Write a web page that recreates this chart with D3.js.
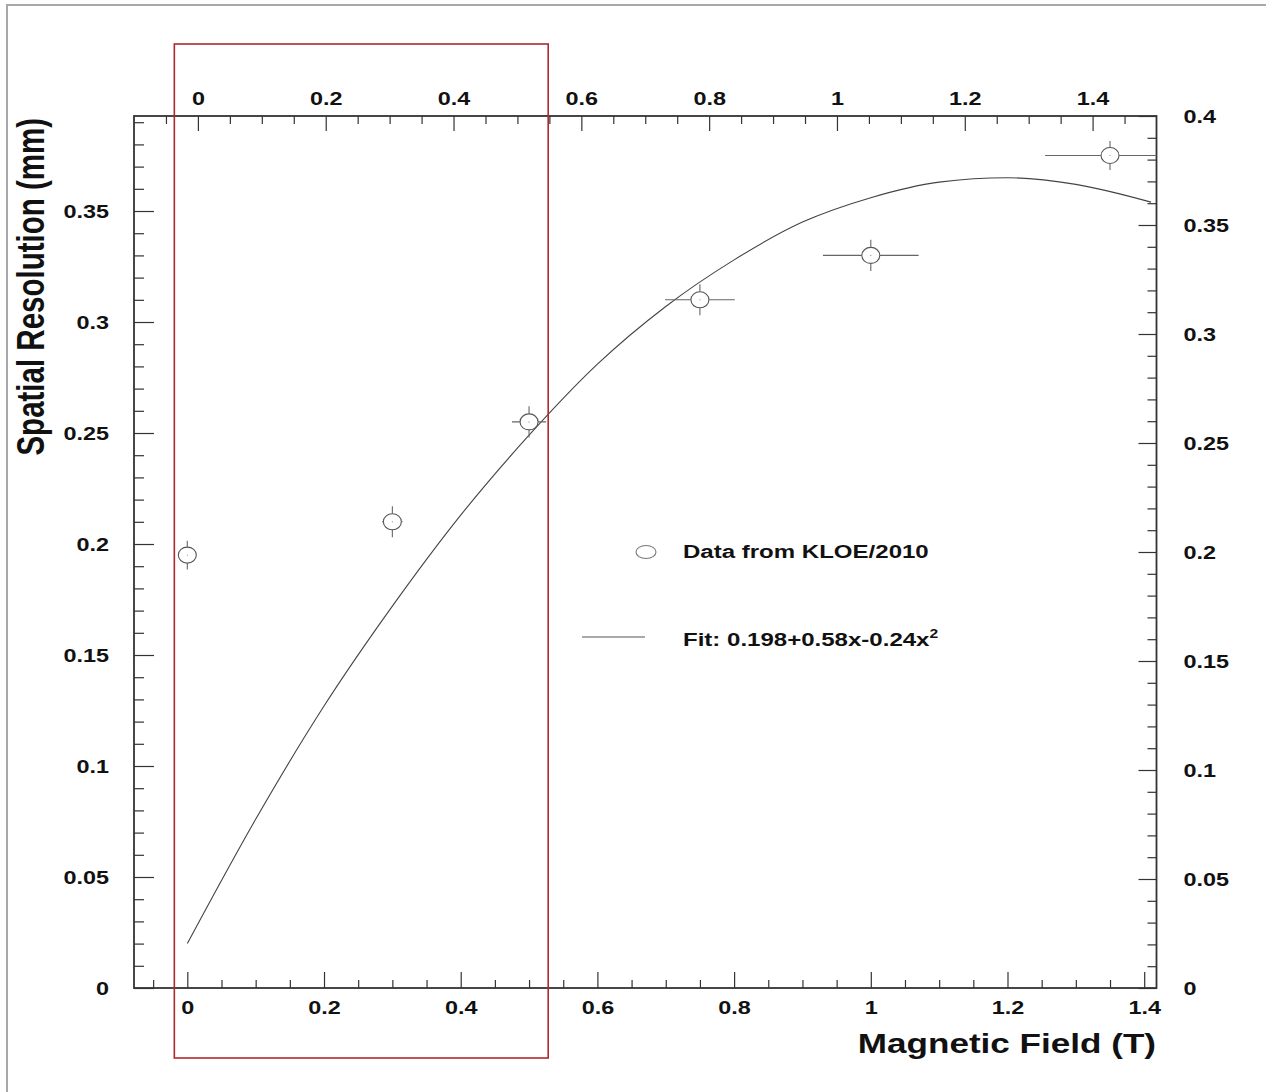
<!DOCTYPE html>
<html>
<head>
<meta charset="utf-8">
<script src="https://cdn.jsdelivr.net/npm/d3@7"></script>
<style>
  body { margin: 0; background: #fff; }
  svg text { font-family: "Liberation Sans", Arial, sans-serif; font-weight: bold; fill: #111; }
</style>
</head>
<body>
<div class="vis"></div>
<script>
// data
const fieldT = [0, 0.3, 0.5, 0.75, 1.0, 1.35];
const resolutionMm = [0.195, 0.21, 0.255, 0.31, 0.33, 0.375];
const fieldErr = [0, 0.015, 0.025, 0.051, 0.07, 0.095];
const resolutionErr = [0.0065, 0.007, 0.007, 0.007, 0.007, 0.0065];

// fit curve as drawn (sampled from the figure)
const fitX = [0, 0.1, 0.2, 0.3, 0.4, 0.5, 0.6, 0.7, 0.8, 0.9, 1.0, 1.1, 1.2, 1.3, 1.41];
const fitY = [0.020, 0.076, 0.127, 0.172, 0.213, 0.249, 0.281, 0.307, 0.328, 0.345, 0.356, 0.363, 0.365, 0.362, 0.354];

const bottomTicks = [0, 0.2, 0.4, 0.6, 0.8, 1, 1.2, 1.4];
const bottomLabels = ["0", "0.2", "0.4", "0.6", "0.8", "1", "1.2", "1.4"];
const topTicks = [0, 0.2, 0.4, 0.6, 0.8, 1, 1.2, 1.4];
const topLabels = ["0", "0.2", "0.4", "0.6", "0.8", "1", "1.2", "1.4"];
const leftTicks = [0, 0.05, 0.1, 0.15, 0.2, 0.25, 0.3, 0.35];
const leftLabels = ["0", "0.05", "0.1", "0.15", "0.2", "0.25", "0.3", "0.35"];
const rightTicks = [0, 0.05, 0.1, 0.15, 0.2, 0.25, 0.3, 0.35, 0.4];
const rightLabels = ["0", "0.05", "0.1", "0.15", "0.2", "0.25", "0.3", "0.35", "0.4"];

const legendLabels = ["Data from KLOE/2010", "Fit: 0.198+0.58x-0.24x"];
const highlightRange = [-0.019, 0.528];

const W = 1266, H = 1092;
const frame = {left: 134, right: 1156.5, top: 116, bottom: 988};
const sx = 1.3; // the picture's text is stretched sideways

const svg = d3.select('.vis').append('svg')
    .attr('width', W)
    .attr('height', H);

// outer grey border of the screenshot
svg.append('path')
    .attr('d', `M7,${H} V5 H${W}`)
    .attr('fill', 'none')
    .attr('stroke', '#a8a8a8')
    .attr('stroke-width', 2);

const x = d3.scaleLinear().domain([-0.078, 1.418]).range([frame.left, frame.right]);
const xTop = d3.scaleLinear().domain([-0.1, 1.5]).range([frame.left, frame.right]);
const y = d3.scaleLinear().domain([0, 0.3928]).range([frame.bottom, frame.top]);
const yRight = d3.scaleLinear().domain([0, 0.4]).range([frame.bottom, frame.top]);

const axisColor = '#333';

function styleAxis(g) {
    g.select('.domain').remove();
    g.selectAll('line').attr('stroke', axisColor).attr('stroke-width', 1.2);
}

// bottom axis
svg.append('g')
    .attr('transform', `translate(0,${frame.bottom})`)
    .call(d3.axisBottom(x).tickValues(d3.range(-0.05, 1.42, 0.05).filter(v => Math.abs(v * 5 - Math.round(v * 5)) > 1e-6)).tickSize(-8).tickFormat(''))
    .call(styleAxis);
const bAx = svg.append('g')
    .attr('transform', `translate(0,${frame.bottom})`)
    .call(d3.axisBottom(x).tickValues(bottomTicks).tickSize(-16).tickFormat((d, i) => bottomLabels[i]))
    .call(styleAxis);
bAx.selectAll('text')
    .attr('y', 26).attr('dy', 0)
    .attr('transform', `scale(${sx},1)`)
    .attr('font-size', 18).attr('fill', '#111');

// top axis
svg.append('g')
    .attr('transform', `translate(0,${frame.top})`)
    .call(d3.axisTop(xTop).tickValues(d3.range(-0.05, 1.5, 0.05).filter(v => Math.abs(v * 5 - Math.round(v * 5)) > 1e-6)).tickSize(-8).tickFormat(''))
    .call(styleAxis);
const tAx = svg.append('g')
    .attr('transform', `translate(0,${frame.top})`)
    .call(d3.axisTop(xTop).tickValues(topTicks).tickSize(-15).tickFormat((d, i) => topLabels[i]))
    .call(styleAxis);
tAx.selectAll('text')
    .attr('y', -11).attr('dy', 0)
    .attr('transform', `scale(${sx},1)`)
    .attr('font-size', 18).attr('fill', '#111');

// left axis
svg.append('g')
    .attr('transform', `translate(${frame.left},0)`)
    .call(d3.axisLeft(y).tickValues(d3.range(0.01, 0.391, 0.01).filter(v => Math.abs(v * 20 - Math.round(v * 20)) > 1e-6)).tickSize(-10).tickFormat(''))
    .call(styleAxis);
const lAx = svg.append('g')
    .attr('transform', `translate(${frame.left},0)`)
    .call(d3.axisLeft(y).tickValues(leftTicks).tickSize(-20).tickFormat((d, i) => leftLabels[i]))
    .call(styleAxis);
lAx.selectAll('text')
    .attr('x', -25 / sx).attr('dy', '0.36em')
    .attr('transform', `scale(${sx},1)`)
    .attr('font-size', 18).attr('fill', '#111');

// right axis
svg.append('g')
    .attr('transform', `translate(${frame.right},0)`)
    .call(d3.axisRight(yRight).tickValues(d3.range(0.01, 0.4, 0.01).filter(v => Math.abs(v * 20 - Math.round(v * 20)) > 1e-6)).tickSize(-9).tickFormat(''))
    .call(styleAxis);
const rAx = svg.append('g')
    .attr('transform', `translate(${frame.right},0)`)
    .call(d3.axisRight(yRight).tickValues(rightTicks).tickSize(-18).tickFormat((d, i) => rightLabels[i]))
    .call(styleAxis);
rAx.selectAll('text')
    .attr('x', 27 / sx).attr('dy', '0.36em')
    .attr('transform', `scale(${sx},1)`)
    .attr('font-size', 18).attr('fill', '#111');

// plot frame
svg.append('rect')
    .attr('x', frame.left).attr('y', frame.top)
    .attr('width', frame.right - frame.left)
    .attr('height', frame.bottom - frame.top)
    .attr('fill', 'none')
    .attr('stroke', axisColor)
    .attr('stroke-width', 1.8);

// clip for the marks
svg.append('clipPath').attr('id', 'plotclip')
    .append('rect')
    .attr('x', frame.left).attr('y', frame.top)
    .attr('width', frame.right - frame.left)
    .attr('height', frame.bottom - frame.top);

const plot = svg.append('g').attr('clip-path', 'url(#plotclip)');

// fit curve
const fitData = fitX.map((v, i) => ({x: v, y: fitY[i]}));
plot.append('path')
    .datum(fitData)
    .attr('d', d3.line().x(d => x(d.x)).y(d => y(d.y)).curve(d3.curveMonotoneX))
    .attr('fill', 'none')
    .attr('stroke', '#444')
    .attr('stroke-width', 1.1);

// data points with error bars
const rx = 9, ry = 8;
const points = fieldT.map((v, i) => ({x: v, y: resolutionMm[i], ex: fieldErr[i], ey: resolutionErr[i]}));
const pt = plot.selectAll('.pt').data(points).enter().append('g').attr('class', 'pt');
pt.append('ellipse')
    .attr('cx', d => x(d.x)).attr('cy', d => y(d.y))
    .attr('rx', rx).attr('ry', ry)
    .attr('fill', 'none').attr('stroke', '#555').attr('stroke-width', 1.1);
pt.append('circle')
    .attr('cx', d => x(d.x)).attr('cy', d => y(d.y))
    .attr('r', 0.6).attr('fill', '#888');
// vertical error segments (outside the marker)
pt.append('path')
    .attr('d', d => {
        const cx = x(d.x), cy = y(d.y);
        const t = y(d.y + d.ey), b = y(d.y - d.ey);
        return `M${cx},${t}V${cy - ry}M${cx},${cy + ry}V${b}`;
    })
    .attr('stroke', '#666').attr('stroke-width', 1.1).attr('fill', 'none');
// horizontal error segments
pt.filter(d => d.ex > 0).append('path')
    .attr('d', d => {
        const cx = x(d.x), cy = y(d.y);
        const l = x(d.x - d.ex), r = x(d.x + d.ex);
        return `M${l},${cy}H${cx - rx}M${cx + rx},${cy}H${r}`;
    })
    .attr('stroke', '#666').attr('stroke-width', 1.1).attr('fill', 'none');

// highlight box
svg.append('rect')
    .attr('x', x(highlightRange[0])).attr('y', 44)
    .attr('width', x(highlightRange[1]) - x(highlightRange[0]))
    .attr('height', 1058 - 44)
    .attr('fill', 'none')
    .attr('stroke', '#b0282c')
    .attr('stroke-width', 1.6);

// legend
const leg = svg.append('g');
leg.append('ellipse')
    .attr('cx', 646).attr('cy', 552)
    .attr('rx', 10).attr('ry', 6.5)
    .attr('fill', 'none').attr('stroke', '#777').attr('stroke-width', 1.1);
leg.append('text')
    .attr('transform', `translate(683,558) scale(${sx},1)`)
    .attr('font-size', 18.5)
    .text(legendLabels[0]);
leg.append('line')
    .attr('x1', 582).attr('x2', 645)
    .attr('y1', 637).attr('y2', 637)
    .attr('stroke', '#555').attr('stroke-width', 1.1);
const fitText = leg.append('text')
    .attr('transform', `translate(683,646) scale(${sx},1)`)
    .attr('font-size', 18.5);
fitText.append('tspan').text(legendLabels[1]);
fitText.append('tspan').attr('font-size', 12).attr('dy', -8).text('2');

// axis titles
svg.append('text')
    .attr('transform', `translate(1156,1053) scale(${sx},1)`)
    .attr('text-anchor', 'end')
    .attr('font-size', 27)
    .text('Magnetic Field (T)');
svg.append('text')
    .attr('transform', `translate(44,118) scale(${sx},1) rotate(-90)`)
    .attr('text-anchor', 'end')
    .attr('font-size', 29.5)
    .text('Spatial Resolution (mm)');
</script>
</body>
</html>
